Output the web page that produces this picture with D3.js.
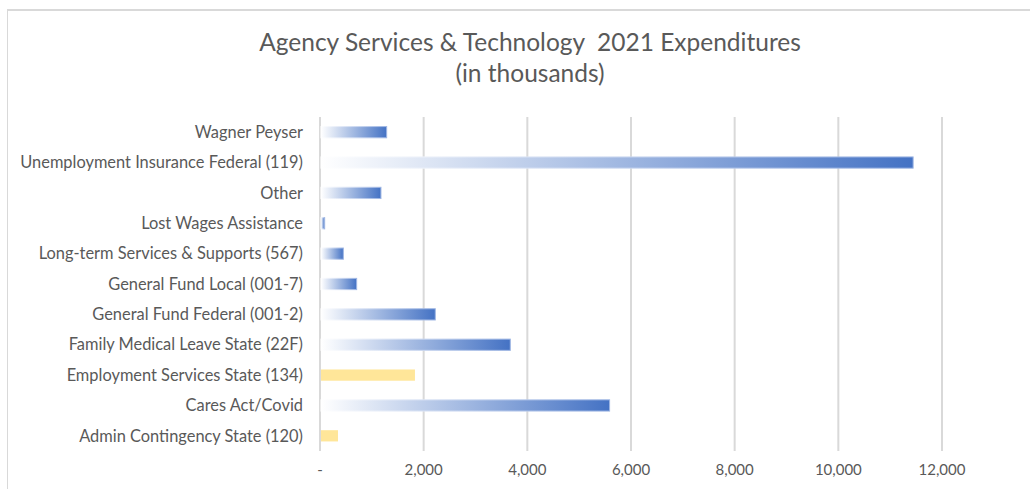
<!DOCTYPE html>
<html>
<head>
<meta charset="utf-8">
<script src="https://cdn.jsdelivr.net/npm/d3@7"></script>
<style>
  html, body { margin: 0; padding: 0; background: #fff; }
  svg { display: block; }
  text { font-family: Lato, "Open Sans", "Liberation Sans", sans-serif; fill: #595959; white-space: pre; }
</style>
</head>
<body>
<svg id="chart" width="1030" height="489"></svg>
<script>
// Funding sources, listed top to bottom
const categories = [
  "Wagner Peyser",
  "Unemployment Insurance Federal (119)",
  "Other",
  "Lost Wages Assistance",
  "Long-term Services & Supports (567)",
  "General Fund Local (001-7)",
  "General Fund Federal (001-2)",
  "Family Medical Leave State (22F)",
  "Employment Services State (134)",
  "Cares Act/Covid",
  "Admin Contingency State (120)"
];
// Expenditures in thousands of dollars
const values = [1286, 11443, 1176, 90, 450, 707, 2224, 3671, 1832, 5587, 347];
// Bar fill style: "grad" = blue gradient, "solid" = yellow
const fillStyle = ["grad", "grad", "grad", "grad", "grad", "grad", "grad", "grad", "solid", "grad", "solid"];
const tickValues = [0, 2000, 4000, 6000, 8000, 10000, 12000];
const titleLines = ["Agency Services & Technology  2021 Expenditures", "(in thousands)"];

const svg = d3.select("#chart");

// chart frame
svg.append("line").attr("x1", 7).attr("x2", 1030).attr("y1", 10).attr("y2", 10)
  .attr("stroke", "#d9d9d9").attr("stroke-width", 2);
svg.append("line").attr("x1", 7.5).attr("x2", 7.5).attr("y1", 9).attr("y2", 489)
  .attr("stroke", "#d9d9d9").attr("stroke-width", 1);

const x = d3.scaleLinear().domain([0, 12000]).range([320, 942]);
const y = d3.scaleBand().domain(categories).range([117, 451]).paddingInner(0.63).paddingOuter(0.315);

// gradients
const defs = svg.append("defs");
const g1 = defs.append("linearGradient").attr("id", "blueFill");
g1.append("stop").attr("offset", "0%").attr("stop-color", "#ffffff");
g1.append("stop").attr("offset", "100%").attr("stop-color", "#4472c4");
const g2 = defs.append("linearGradient").attr("id", "blueEdge");
g2.append("stop").attr("offset", "0%").attr("stop-color", "#ffffff");
g2.append("stop").attr("offset", "100%").attr("stop-color", "#9db5e3");

// title
svg.append("g").selectAll("text").data(titleLines).join("text")
  .attr("x", 530).attr("y", (d, i) => 51 + i * 31)
  .attr("text-anchor", "middle")
  .style("font-size", "24.5px")
  .text(d => d);

// gridlines
svg.append("g").selectAll("line").data(tickValues).join("line")
  .attr("x1", d => x(d)).attr("x2", d => x(d))
  .attr("y1", 117).attr("y2", 451)
  .attr("stroke", "#d9d9d9").attr("stroke-width", 2);

// bars
svg.append("g").selectAll("rect").data(categories).join("rect")
  .attr("x", x(0) + 1)
  .attr("y", d => y(d))
  .attr("height", y.bandwidth())
  .attr("width", (d, i) => x(values[i]) - x(0) - 1)
  .attr("fill", (d, i) => fillStyle[i] === "grad" ? "url(#blueFill)" : "#ffe699")
  .attr("stroke", (d, i) => fillStyle[i] === "grad" ? "url(#blueEdge)" : "none")
  .attr("stroke-width", 1);

// category labels
svg.append("g").selectAll("text").data(categories).join("text")
  .attr("x", 303)
  .attr("y", d => y(d) + y.bandwidth() / 2)
  .attr("dy", "0.35em")
  .attr("text-anchor", "end")
  .style("font-size", "16.4px")
  .text(d => d);

// value axis labels
svg.append("g").selectAll("text").data(tickValues).join("text")
  .attr("x", d => x(d))
  .attr("y", 475)
  .attr("text-anchor", "middle")
  .style("font-size", "15px")
  .text(d => d === 0 ? "-" : d3.format(",")(d));
</script>
</body>
</html>
